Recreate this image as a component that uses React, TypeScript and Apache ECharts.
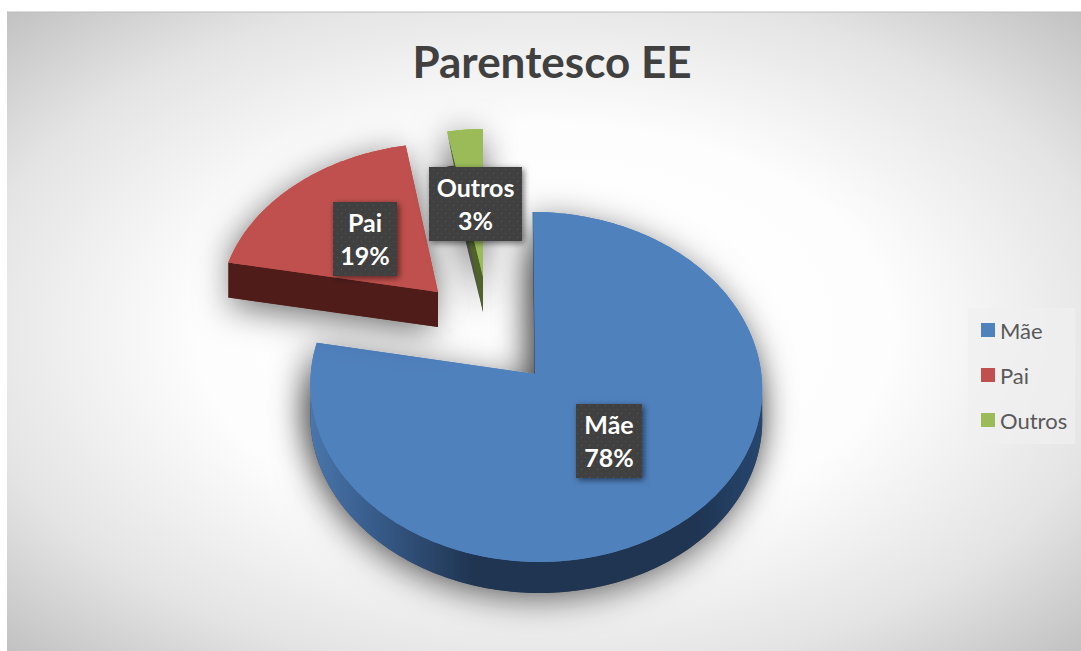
import React, { useEffect, useRef } from "react";
import * as echarts from "echarts";

const categories = ["Mãe", "Pai", "Outros"];
const values = [78, 19, 3];
const colors = ["#4f81bd", "#c0504d", "#9bbb59"];
const titleText = "Parentesco EE";

// Projection of each slice (explosion + perspective): apex, ellipse centre line, radii, depth, skew, angle warp
const geometry = [
  { cx: 535, cy: 374, ey: 387, ex: 536, rx: 226, ry: 175, depth: 31, rimDepth: 31, skew: -0.018, warp: 3.9 },
  { cx: 438, cy: 292, ey: 303, ex: 438, rx: 218, ry: 160, depth: 35, rimDepth: 35, skew: 0.04, warp: 3.9 },
  { cx: 483, cy: 277, ey: 288, ex: 483, rx: 205, ry: 159, depth: 35, rimDepth: 0, skew: 0, warp: 3.9 },
];
const labelBoxes = [
  { x: 576, y: 404, w: 66, h: 74 },
  { x: 333, y: 202, w: 64, h: 74 },
  { x: 429, y: 167, w: 93, h: 74 },
];
const sideFills: any[] = [
  {
    type: "linear", x: 310, y: 0, x2: 762, y2: 0, global: true,
    colorStops: [
      { offset: 0, color: "#4a76ab" },
      { offset: 0.12, color: "#3a6090" },
      { offset: 0.36, color: "#1f3552" },
      { offset: 0.85, color: "#1f3552" },
      { offset: 1, color: "#26466e" },
    ],
  },
  "#4f1c1a",
  "#4f6228",
];

const FONT = "Lato, Carlito, 'Open Sans', sans-serif";
const total = values.reduce((a, b) => a + b, 0);

function dotTexture(): string {
  const c = document.createElement("canvas");
  c.width = 8;
  c.height = 8;
  const g = c.getContext("2d")!;
  g.fillStyle = "#3f3f3f";
  g.fillRect(0, 0, 8, 8);
  g.fillStyle = "#575757";
  g.fillRect(1, 1, 1, 1);
  g.fillRect(5, 5, 1, 1);
  return c.toDataURL();
}

function project(g: (typeof geometry)[number], deg: number) {
  const r = (deg * Math.PI) / 180;
  const t = r - (g.warp * Math.PI * Math.sin(r)) / 180;
  const y = g.ey - g.ry * Math.cos(t);
  return [g.ex + g.rx * Math.sin(t) - g.skew * (y - g.cy), y];
}

function arcPoints(g: (typeof geometry)[number], a0: number, a1: number) {
  const pts: number[][] = [];
  const n = Math.max(2, Math.ceil(Math.abs(a1 - a0)));
  for (let i = 0; i <= n; i++) pts.push(project(g, a0 + ((a1 - a0) * i) / n));
  return pts;
}

function sliceGroup(index: number, value: number, texture: string) {
  const g = geometry[index];
  let before = 0;
  for (let i = 0; i < index; i++) before += values[i];
  const a0 = (before / total) * 360;
  const a1 = ((before + value) / total) * 360;
  const color = colors[index];
  const top = [[g.cx, g.cy], ...arcPoints(g, a0, a1)];
  const lowered = top.map(([x, y]) => [x, y + g.depth]);
  const shadow = { shadowBlur: 34, shadowColor: "rgba(0,0,0,0.55)", shadowOffsetX: -3, shadowOffsetY: 7 };
  const children: any[] = [];
  children.push({ type: "polygon", shape: { points: lowered }, style: { fill: "#555", ...shadow } });
  children.push({ type: "polygon", shape: { points: top }, style: { fill: color, ...shadow } });
  // rim (only the part facing the viewer)
  const from = Math.max(a0, 94);
  const to = Math.min(a1, 266);
  if (to > from) {
    const rim = arcPoints(g, from, to);
    const rimLow = rim.map(([x, y]) => [x, y + g.depth]).reverse();
    children.push({ type: "polygon", shape: { points: [...rim, ...rimLow] }, style: { fill: sideFills[index] } });
  }
  // cut face turned towards the viewer
  if (index > 0) {
    const p = project(g, a0);
    children.push({
      type: "polygon",
      shape: {
        points: [p, [g.cx, g.cy], [g.cx, g.cy + g.depth], [p[0], p[1] + g.rimDepth]],
      },
      style: { fill: sideFills[index] },
    });
  } else {
    const p = project(g, a0);
    children.push({
      type: "line",
      shape: { x1: p[0], y1: p[1], x2: g.cx, y2: g.cy },
      style: { stroke: "#2c4a70", lineWidth: 1 },
    });
  }
  children.push({ type: "polygon", shape: { points: top }, style: { fill: color } });
  const box = labelBoxes[index];
  children.push({
    type: "rect",
    shape: { x: box.x, y: box.y, width: box.w, height: box.h },
    style: {
      fill: { image: texture, repeat: "repeat" },
      shadowBlur: 6,
      shadowColor: "rgba(0,0,0,0.55)",
      shadowOffsetX: 2,
      shadowOffsetY: 2,
    },
  });
  children.push({
    type: "text",
    x: box.x + box.w / 2,
    y: box.y + box.h / 2 - 1,
    style: {
      text: `${categories[index]}\n${Math.round((value / total) * 100)}%`,
      fill: "#ffffff",
      font: `bold 25px ${FONT}`,
      lineHeight: 33,
      align: "center",
      verticalAlign: "middle",
    },
  });
  return { type: "group", children };
}

export default function App() {
  const ref = useRef<HTMLDivElement>(null);
  useEffect(() => {
    const chart = echarts.init(ref.current!, null, { renderer: "svg" });
    const texture = dotTexture();
    chart.setOption({
      animation: false,
      backgroundColor: "#ffffff",
      title: {
        text: titleText,
        left: 547,
        top: 34,
        textAlign: "center",
        textStyle: { fontFamily: FONT, fontSize: 44, fontWeight: "bold", color: "#404040" },
      },
      legend: {
        orient: "vertical",
        left: 968,
        top: 308,
        data: categories,
        icon: "rect",
        itemWidth: 14,
        itemHeight: 14,
        itemGap: 23,
        padding: [11, 8, 13, 13],
        selectedMode: false,
        backgroundColor: "rgba(240,240,240,0.7)",
        textStyle: { fontFamily: FONT, fontSize: 22, color: "#595959" },
      },
      graphic: [
        {
          type: "rect",
          z: -10,
          shape: { x: 7, y: 12, width: 1074, height: 639 },
          style: {
            fill: new echarts.graphic.RadialGradient(0.5, 0.5, 0.72, [
              { offset: 0, color: "#ffffff" },
              { offset: 0.45, color: "#fdfdfd" },
              { offset: 0.75, color: "#e4e4e4" },
              { offset: 1, color: "#bfbfbf" },
            ]),
            lineWidth: 0,
          },
        },
        {
          type: "line",
          z: -9,
          shape: { x1: 7, y1: 12, x2: 1081, y2: 12 },
          style: { stroke: "#bcbcbc", lineWidth: 1 },
        },
      ],
      series: categories.map((name, i) => ({
        type: "custom",
        name,
        coordinateSystem: "none",
        itemStyle: { color: colors[i] },
        data: [[values[i]]],
        renderItem: (_p: any, api: any) => sliceGroup(i, api.value(0), texture),
      })),
    });
    return () => chart.dispose();
  }, []);
  return <div ref={ref} style={{ position: "fixed", left: 0, top: 0, width: 1081, height: 651 }} />;
}
